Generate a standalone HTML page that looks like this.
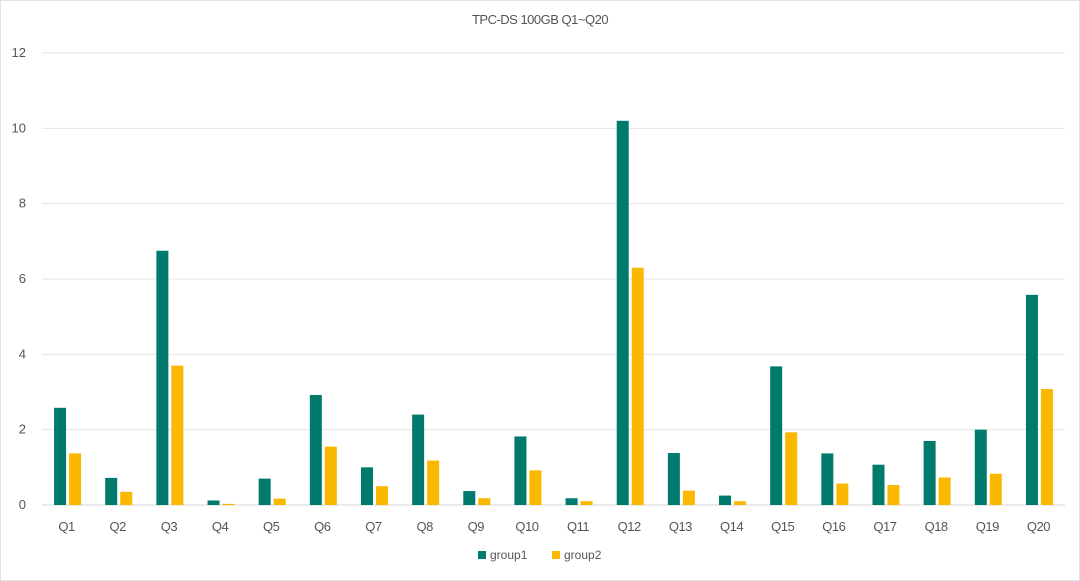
<!DOCTYPE html>
<html><head><meta charset="utf-8"><style>
body{margin:0;background:#fff;}
svg{display:block;font-family:"Liberation Sans",sans-serif;}
</style></head><body>
<svg id="chart" width="1080" height="581" viewBox="0 0 1080 581">
<rect x="0.5" y="0.5" width="1079" height="580" fill="#fff" stroke="#e2e2e2"/>
<text x="540" y="24" text-anchor="middle" font-size="13" fill="#555" letter-spacing="-0.5">TPC-DS 100GB Q1~Q20</text>
<g id="grid"></g><g id="bars"></g><g id="xlabels"></g>
<g>
<rect x="478" y="551" width="8" height="8" fill="#007a6c"/>
<text x="490" y="559" font-size="12" fill="#555">group1</text>
<rect x="552" y="551" width="8" height="8" fill="#fbb800"/>
<text x="564" y="559" font-size="12" fill="#555">group2</text>
</g>
</svg>
<script>
const categories=["Q1","Q2","Q3","Q4","Q5","Q6","Q7","Q8","Q9","Q10","Q11","Q12","Q13","Q14","Q15","Q16","Q17","Q18","Q19","Q20"];
const group1=[2.58,0.72,6.75,0.12,0.7,2.92,1.0,2.4,0.37,1.82,0.18,10.2,1.38,0.25,3.68,1.37,1.07,1.7,2.0,5.58];
const group2=[1.37,0.35,3.7,0.03,0.17,1.55,0.5,1.18,0.18,0.92,0.1,6.3,0.38,0.1,1.93,0.57,0.53,0.73,0.83,3.08];
const yTicks=[0,2,4,6,8,10,12];
const NS="http://www.w3.org/2000/svg";
const x0=42,x1=1065,y0=505,y1=53,yMax=12;
const band=(x1-x0)/categories.length;
function y(v){return y0-(v/yMax)*(y0-y1);}
function bx(i){return x0+band*i+band/2;}
function mk(tag,attrs,parent){const e=document.createElementNS(NS,tag);for(const k in attrs)e.setAttribute(k,attrs[k]);document.getElementById(parent).appendChild(e);return e;}
yTicks.forEach(t=>{
 const l=mk('line',{x1:x0,x2:x1,y1:y(t),y2:y(t),stroke:t===0?'#d4d4d4':'#e4e4e4','stroke-width':1},'grid');
 
 
 const tx=mk('text',{x:26,y:y(t)+4,'text-anchor':'end','font-size':13,fill:'#555'},'grid');
 tx.textContent=t;
 
 
});
categories.forEach((c,i)=>{
 const cx=bx(i);
 const r1=mk('rect',{x:cx-13.5,y:y(group1[i]),width:12,height:y0-y(group1[i]),fill:'#007a6c'},'bars');
 
 
 const r2=mk('rect',{x:cx+1.5,y:y(group2[i]),width:12,height:y0-y(group2[i]),fill:'#fbb800'},'bars');
 
 
 const t=mk('text',{x:cx-1,y:531,'text-anchor':'middle','font-size':13,fill:'#555','letter-spacing':'-0.5'},'xlabels');
 t.textContent=c;
 
 
});
</script>
</body></html>
